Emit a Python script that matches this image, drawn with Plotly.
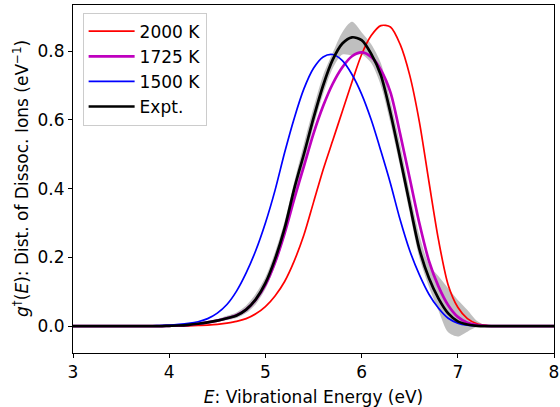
import plotly.graph_objects as go

energy = [3.0, 3.1, 3.2, 3.3, 3.4, 3.5, 3.6, 3.7, 3.8, 3.9,
          4.0, 4.1, 4.2, 4.3, 4.4, 4.5, 4.6, 4.7, 4.8, 4.9,
          5.0, 5.1, 5.2, 5.3, 5.4, 5.5, 5.6, 5.7, 5.8, 5.9,
          6.0, 6.1, 6.2, 6.3, 6.4, 6.5, 6.6, 6.7, 6.8, 6.9,
          7.0, 7.1, 7.2, 7.3, 7.4, 7.5, 7.6, 7.7, 7.8, 7.9, 8.0]

g_2000K = [0, 0, 0, 0, 0, 0, 0, 0, 0, 0,
           0, 0, 0.001, 0.002, 0.003, 0.005, 0.009, 0.014, 0.022, 0.036,
           0.057, 0.088, 0.13, 0.19, 0.265, 0.36, 0.455, 0.54, 0.625, 0.71,
           0.79, 0.845, 0.874, 0.87, 0.82, 0.73, 0.595, 0.42, 0.25, 0.12,
           0.055, 0.022, 0.007, 0.002, 0, 0, 0, 0, 0, 0, 0]

g_1725K = [0, 0, 0, 0, 0, 0, 0, 0, 0, 0,
           0.001, 0.002, 0.004, 0.007, 0.011, 0.016, 0.023, 0.032, 0.048, 0.077,
           0.12, 0.185, 0.27, 0.37, 0.465, 0.56, 0.64, 0.705, 0.753, 0.785,
           0.796, 0.783, 0.745, 0.68, 0.56, 0.43, 0.30, 0.19, 0.115, 0.061,
           0.027, 0.010, 0.003, 0.001, 0, 0, 0, 0, 0, 0, 0]

g_1500K = [0, 0, 0, 0, 0, 0, 0, 0.001, 0.001, 0.002,
           0.003, 0.005, 0.008, 0.013, 0.022, 0.038, 0.063, 0.102, 0.155, 0.22,
           0.30, 0.395, 0.505, 0.605, 0.69, 0.75, 0.783, 0.79, 0.772, 0.732,
           0.675, 0.60, 0.51, 0.415, 0.31, 0.22, 0.15, 0.093, 0.052, 0.023,
           0.009, 0.003, 0.001, 0, 0, 0, 0, 0, 0, 0, 0]

g_expt = [0, 0, 0, 0, 0, 0, 0, 0, 0, 0,
          0.001, 0.002, 0.004, 0.007, 0.011, 0.016, 0.023, 0.031, 0.048, 0.078,
          0.125, 0.195, 0.285, 0.40, 0.50, 0.605, 0.70, 0.775, 0.822, 0.840,
          0.832, 0.792, 0.73, 0.62, 0.49, 0.355, 0.225, 0.14, 0.08, 0.037,
          0.014, 0.005, 0.001, 0, 0, 0, 0, 0, 0, 0, 0]

g_expt_low = [0, 0, 0, 0, 0, 0, 0, 0, 0, 0,
              0.001, 0.002, 0.004, 0.006, 0.009, 0.013, 0.018, 0.024, 0.038, 0.064,
              0.108, 0.175, 0.262, 0.375, 0.475, 0.58, 0.675, 0.75, 0.79, 0.788,
              0.79, 0.765, 0.70, 0.59, 0.465, 0.33, 0.20, 0.115, 0.045, -0.018,
              -0.03, -0.016, -0.002, 0, 0, 0, 0, 0, 0, 0, 0]

g_expt_high = [0, 0, 0, 0, 0, 0, 0, 0, 0, 0,
               0.001, 0.002, 0.004, 0.008, 0.013, 0.02, 0.03, 0.04, 0.06, 0.094,
               0.142, 0.215, 0.305, 0.42, 0.53, 0.635, 0.73, 0.795, 0.855, 0.885,
               0.855, 0.82, 0.765, 0.655, 0.53, 0.39, 0.265, 0.18, 0.145, 0.11,
               0.076, 0.047, 0.015, 0.002, 0, 0, 0, 0, 0, 0, 0]

x_ticks = [3, 4, 5, 6, 7, 8]
y_ticks = [0.0, 0.2, 0.4, 0.6, 0.8]

FONT = "DejaVu Sans"
FS = 17

fig = go.Figure()
fig.add_trace(go.Scatter(x=energy, y=g_expt_low, mode="lines",
                         line=dict(width=0, shape="spline", smoothing=0.8),
                         showlegend=False, hoverinfo="skip"))
fig.add_trace(go.Scatter(x=energy, y=g_expt_high, mode="lines", fill="tonexty",
                         fillcolor="rgba(128,128,128,0.5)",
                         line=dict(width=0, shape="spline", smoothing=0.8),
                         showlegend=False, hoverinfo="skip"))

series = [("2000 K", g_2000K, "#ff0000", 1.7),
          ("1725 K", g_1725K, "#bf00bf", 2.7),
          ("1500 K", g_1500K, "#0000ff", 1.7),
          ("Expt.", g_expt, "#000000", 2.7)]
for name, ys, col, w in series:
    fig.add_trace(go.Scatter(x=energy, y=ys, mode="lines", name=name,
                             line=dict(color=col, width=w, shape="spline", smoothing=0.8)))

fig.update_layout(
    width=560, height=407,
    margin=dict(l=73, r=6, t=5, b=54),
    paper_bgcolor="white", plot_bgcolor="white",
    font=dict(family=FONT, size=FS, color="black"),
    showlegend=True,
    legend=dict(x=0.02, y=0.978, xanchor="left", yanchor="top", traceorder="normal",
                bgcolor="rgba(255,255,255,0.8)", bordercolor="#cccccc", borderwidth=1,
                font=dict(family=FONT, size=FS), tracegroupgap=0, itemwidth=46),
    annotations=[dict(text="<i>g</i><sup>†</sup>(<i>E</i>): Dist. of Dissoc. Ions (eV<sup>−1</sup>)",
                      xref="paper", yref="paper", x=-(73 - 21) / 481, y=0.5,
                      xanchor="center", yanchor="middle", textangle=-90, showarrow=False,
                      font=dict(family=FONT, size=FS))],
)
fig.update_xaxes(range=[3, 8], tickvals=x_ticks, ticktext=[str(v) for v in x_ticks],
                 automargin=False,
                 showline=True, linecolor="black", linewidth=1, mirror=True,
                 ticks="outside", ticklen=4, tickcolor="black", showgrid=False, zeroline=False,
                 title=dict(text="<i>E</i>: Vibrational Energy (eV)",
                            font=dict(family=FONT, size=FS)))
fig.update_yaxes(range=[-0.078, 0.934], tickvals=y_ticks, ticktext=[f"{v:.1f}" for v in y_ticks],
                 automargin=False,
                 showline=True, linecolor="black", linewidth=1, mirror=True,
                 ticks="outside", ticklen=4, tickcolor="black", showgrid=False, zeroline=False)

fig.write_html("out.html", config={"displayModeBar": False},
               post_script="document.body.style.margin='0px';document.body.style.overflow='hidden';")
